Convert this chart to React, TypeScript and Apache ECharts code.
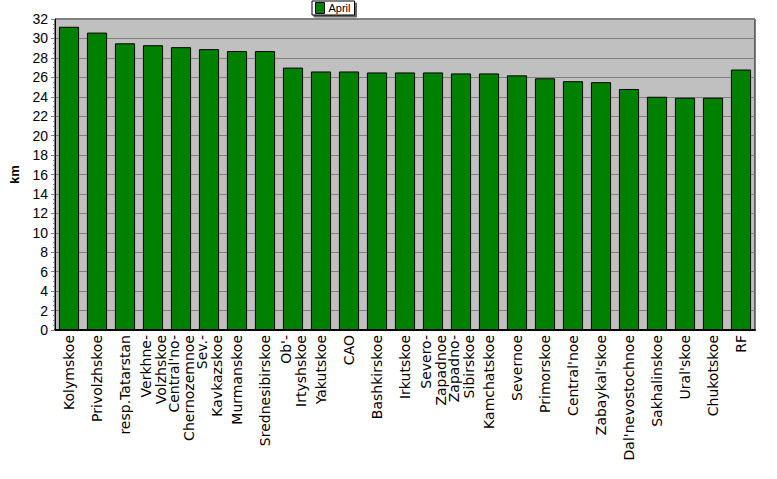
import React, { useEffect, useRef } from "react";
import * as echarts from "echarts";

const categories = [
  "Kolymskoe",
  "Privolzhskoe",
  "resp.Tatarstan",
  "Verkhne-\nVolzhskoe",
  "Central'no-\nChernozemnoe",
  "Sev.-\nKavkazskoe",
  "Murmanskoe",
  "Srednesibirskoe",
  "Ob'-\nIrtyshskoe",
  "Yakutskoe",
  "CAO",
  "Bashkirskoe",
  "Irkutskoe",
  "Severo-\nZapadnoe",
  "Zapadno-\nSibirskoe",
  "Kamchatskoe",
  "Severnoe",
  "Primorskoe",
  "Central'noe",
  "Zabaykal'skoe",
  "Dal'nevostochnoe",
  "Sakhalinskoe",
  "Ural'skoe",
  "Chukotskoe",
  "RF",
];

const aprilValues = [
  31.2, 30.6, 29.5, 29.3, 29.1, 28.9, 28.7, 28.7, 27.0, 26.6, 26.6, 26.5, 26.5,
  26.5, 26.4, 26.4, 26.2, 25.9, 25.6, 25.5, 24.8, 24.0, 23.9, 23.9, 26.8,
];

const seriesName = "April";
const yAxisName = "km";

export default function App() {
  const ref = useRef<HTMLDivElement>(null);
  useEffect(() => {
    if (!ref.current) return;
    const chart = echarts.init(ref.current, undefined, { renderer: "svg" });
    chart.setOption({
      animation: false,
      textStyle: { fontFamily: "Liberation Sans, Arial, sans-serif" },
      legend: {
        data: [seriesName],
        left: 312,
        top: 1,
        itemWidth: 9,
        itemHeight: 11,
        itemGap: 4,
        padding: [1, 4, 1, 3],
        backgroundColor: "#fff",
        borderColor: "#000",
        borderWidth: 1,
        borderRadius: 0,
        shadowColor: "rgba(0,0,0,0.6)",
        shadowOffsetX: 2,
        shadowOffsetY: 2,
        shadowBlur: 1,
        textStyle: { fontSize: 11, color: "#000", padding: [0, 0, 0, -1] },
        icon: "rect",
        itemStyle: { borderColor: "#000", borderWidth: 1 },
      },
      grid: {
        left: 50,
        top: 19,
        right: 22,
        bottom: 149,
        show: true,
        backgroundColor: "#c0c0c0",
        borderColor: "#000",
        borderWidth: 1,
      },
      xAxis: {
        type: "category",
        data: categories,
        axisLine: { lineStyle: { color: "#000", width: 2 } },
        axisTick: {
          alignWithLabel: true,
          length: 5,
          lineStyle: { color: "#808080" },
        },
        axisLabel: {
          interval: 0,
          rotate: 90,
          fontSize: 14,
          fontFamily: "DejaVu Sans",
          lineHeight: 15,
          color: "#000",
          margin: 5,
        },
      },
      yAxis: {
        type: "value",
        min: 0,
        max: 32,
        interval: 2,
        name: yAxisName,
        nameLocation: "middle",
        nameGap: 34,
        nameRotate: 90,
        nameTextStyle: { fontSize: 13, fontWeight: "bold", color: "#000" },
        axisLine: { show: true, lineStyle: { color: "#000", width: 1 } },
        axisTick: { show: true, length: 4, lineStyle: { color: "#808080" } },
        minorTick: { show: true, splitNumber: 4, length: 2, lineStyle: { color: "#808080" } },
        axisLabel: { fontSize: 14, color: "#000", margin: 7 },
        splitLine: { lineStyle: { color: "#808080", width: 1 } },
      },
      series: [
        {
          name: seriesName,
          type: "bar",
          data: aprilValues,
          barCategoryGap: "28%",
          itemStyle: { color: "#008000", borderColor: "#000", borderWidth: 1 },
        },
      ],
    });
    return () => chart.dispose();
  }, []);
  return <div ref={ref} style={{ width: 777, height: 479, position: "absolute", left: 0, top: 0 }} />;
}
